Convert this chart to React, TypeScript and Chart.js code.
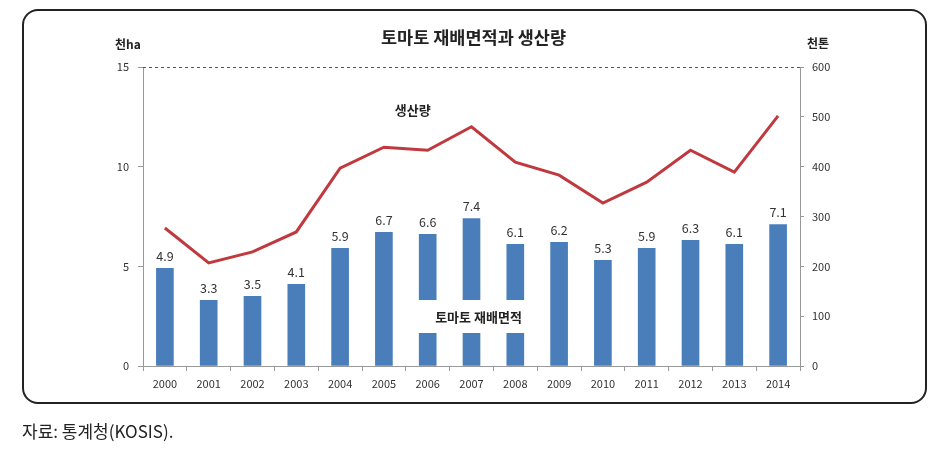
import React, { useEffect, useRef } from "react";
import { Chart, registerables } from "chart.js";

Chart.register(...registerables);

const years = ["2000","2001","2002","2003","2004","2005","2006","2007","2008","2009","2010","2011","2012","2013","2014"];
const areaValues = [4.9, 3.3, 3.5, 4.1, 5.9, 6.7, 6.6, 7.4, 6.1, 6.2, 5.3, 5.9, 6.3, 6.1, 7.1];
const productionValues = [277, 207, 229, 269, 397, 439, 433, 480, 409, 383, 327, 369, 433, 389, 502];
const titleText = "토마토 재배면적과 생산량";
const leftUnit = "천ha";
const rightUnit = "천톤";
const areaLabel = "토마토 재배면적";
const productionLabel = "생산량";
const sourceText = "자료: 통계청(KOSIS).";

const FONT = "'Noto Sans CJK KR', 'Noto Sans', sans-serif";

const overlayPlugin = {
  id: "overlay",
  beforeDatasetsDraw(chart: any) {
    const { ctx, chartArea, scales } = chart;
    const y = scales.y;
    ctx.save();
    ctx.strokeStyle = "#555";
    ctx.lineWidth = 1;
    ctx.setLineDash([3, 3]);
    const yt = Math.round(y.getPixelForValue(15)) + 0.5;
    ctx.beginPath();
    ctx.moveTo(chartArea.left, yt);
    ctx.lineTo(chartArea.right, yt);
    ctx.stroke();
    ctx.restore();
  },
  afterDatasetsDraw(chart: any) {
    const { ctx, chartArea, scales } = chart;
    const meta = chart.getDatasetMeta(1);
    ctx.save();
    ctx.font = `12.5px ${FONT}`;
    ctx.fillStyle = "#333";
    ctx.textAlign = "center";
    ctx.textBaseline = "bottom";
    meta.data.forEach((bar: any, i: number) => {
      ctx.fillText(areaValues[i].toFixed(1), bar.x, bar.y - 6);
    });
    const x = scales.x;
    const cx = (x.getPixelForValue(6) + x.getPixelForValue(8)) / 2 + 7;
    const cy = chartArea.top + 250;
    ctx.fillStyle = "#fff";
    ctx.fillRect(cx - 68, cy - 17, 128, 33);
    ctx.fillStyle = "#222";
    ctx.font = `bold 13px ${FONT}`;
    ctx.textBaseline = "middle";
    ctx.fillText(areaLabel, cx, cy);
    const px = (x.getPixelForValue(5) + x.getPixelForValue(6)) / 2 + 7;
    ctx.fillText(productionLabel, px, chartArea.top + 43);
    ctx.font = `bold 17.5px ${FONT}`;
    ctx.fillText(titleText, (chartArea.left + chartArea.right) / 2 + 2, 37);
    ctx.font = `bold 12px ${FONT}`;
    ctx.textAlign = "left";
    ctx.fillText(leftUnit, chartArea.left - 28, 44);
    ctx.fillText(rightUnit, chartArea.right + 7, 43);
    ctx.restore();
  },
};

export default function App() {
  const ref = useRef<HTMLCanvasElement>(null);
  useEffect(() => {
    if (!ref.current) return;
    const chart = new Chart(ref.current, {
      type: "bar",
      data: {
        labels: years,
        datasets: [
          {
            type: "line",
            label: productionLabel,
            data: productionValues,
            yAxisID: "y2",
            borderColor: "#c0393f",
            borderWidth: 3,
            pointRadius: 0,
            tension: 0,
            order: 0,
          } as any,
          {
            type: "bar",
            label: areaLabel,
            data: areaValues,
            yAxisID: "y",
            backgroundColor: "#4a7ebb",
            barThickness: 17,
            order: 1,
          },
        ],
      },
      options: {
        animation: false,
        responsive: false,
        layout: { padding: { top: 67, left: 0, right: 0, bottom: 0 } },
        plugins: { legend: { display: false }, tooltip: { enabled: false }, title: { display: false } },
        scales: {
          x: {
            offset: true,
            grid: { offset: true, drawOnChartArea: false, tickLength: 5, tickColor: "#999" },
            border: { display: true, color: "#999" },
            ticks: { font: { family: FONT, size: 11 }, color: "#333", padding: 6, maxRotation: 0 },
            afterFit: (s: any) => { s.height = 96; },
          },
          y: {
            position: "left",
            min: 0,
            max: 15,
            ticks: { stepSize: 5, font: { family: FONT, size: 11 }, color: "#333", padding: 9 },
            grid: { drawOnChartArea: false, tickLength: 5, tickColor: "#999" },
            border: { display: true, color: "#999" },
            afterFit: (s: any) => { s.width = 143; },
          },
          y2: {
            position: "right",
            min: 0,
            max: 600,
            ticks: { stepSize: 100, font: { family: FONT, size: 11 }, color: "#333", padding: 8 },
            grid: { drawOnChartArea: false, tickLength: 4, tickColor: "#999" },
            border: { display: true, color: "#999" },
            afterFit: (s: any) => { s.width = 151; },
          },
        },
      },
      plugins: [overlayPlugin],
    });
    return () => chart.destroy();
  }, []);

  return (
    <div style={{ position: "fixed", left: 0, top: 0, width: 951, height: 462, background: "#fff", overflow: "hidden" }}>
      <div
        style={{
          position: "absolute",
          left: 22,
          top: 9,
          width: 901,
          height: 391,
          border: "2px solid #222",
          borderRadius: 16,
        }}
      />
      <canvas ref={ref} width={951} height={462} style={{ position: "absolute", left: 0, top: 0, width: 951, height: 462 }} />
      <div
        style={{
          position: "absolute",
          left: 22,
          top: 419,
          fontFamily: FONT,
          fontSize: 17,
          color: "#222",
          lineHeight: "24px",
          whiteSpace: "nowrap",
        }}
      >
        {sourceText}
      </div>
    </div>
  );
}
